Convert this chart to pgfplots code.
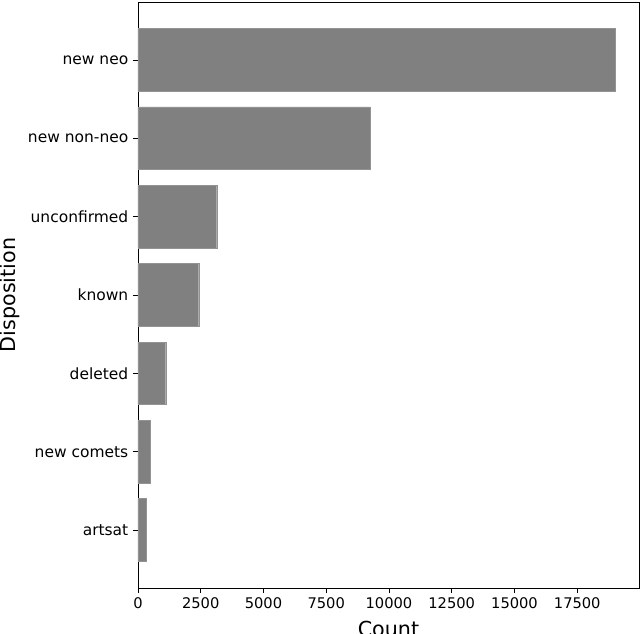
\documentclass[border=0pt]{standalone}
\usepackage{pgfplots}
\pgfplotsset{compat=1.18}
\usepackage{fontspec}
\setmainfont{DejaVu Sans}
\definecolor{bargray}{HTML}{808080}

\begin{document}
\begin{tikzpicture}
  \begin{axis}[
    at={(0,0)}, anchor=south west,
    scale only axis,
    width=375.75pt,
    height=439.5pt,
    xbar,
    bar width=0.8,
    y dir=reverse,
    xmin=0, xmax=19960,
    ymin=-0.74, ymax=6.74,
    xtick={0,2500,5000,7500,10000,12500,15000,17500},
    ytick={0,...,6},
    yticklabels={new neo,new non-neo,unconfirmed,known,deleted,new comets,artsat},
    scaled x ticks=false,
    xticklabel style={/pgf/number format/1000 sep={}, font=\fontsize{11}{13}\selectfont},
    yticklabel style={font=\fontsize{11.6}{13}\selectfont},
    /pgf/number format/assume math mode=true,
    tick align=outside,
    tick pos=left,
    major tick length=3.75pt,
    axis line style={line width=0.6pt},
    every tick/.style={black, line width=0.6pt},
    xlabel={Count},
    ylabel={Disposition},
    label style={font=\fontsize{15.5}{18}\selectfont},
    xlabel style={at={(axis description cs:0.5,0)}, anchor=north, yshift=-21pt},
    ylabel style={at={(axis description cs:-0.2275,0.5)}, anchor=south},
  ]
  \addplot [fill=bargray, draw=bargray!85!white, line width=0.3pt] coordinates {
    (19003,0) (9238,1) (3137,2) (2420,3) (1104,4) (494,5) (335,6)
  };
  \end{axis}
  \pgfresetboundingbox
  \path[use as bounding box] (-103.5pt,-34.5pt) rectangle (376.5pt,441pt);
\end{tikzpicture}
\end{document}
